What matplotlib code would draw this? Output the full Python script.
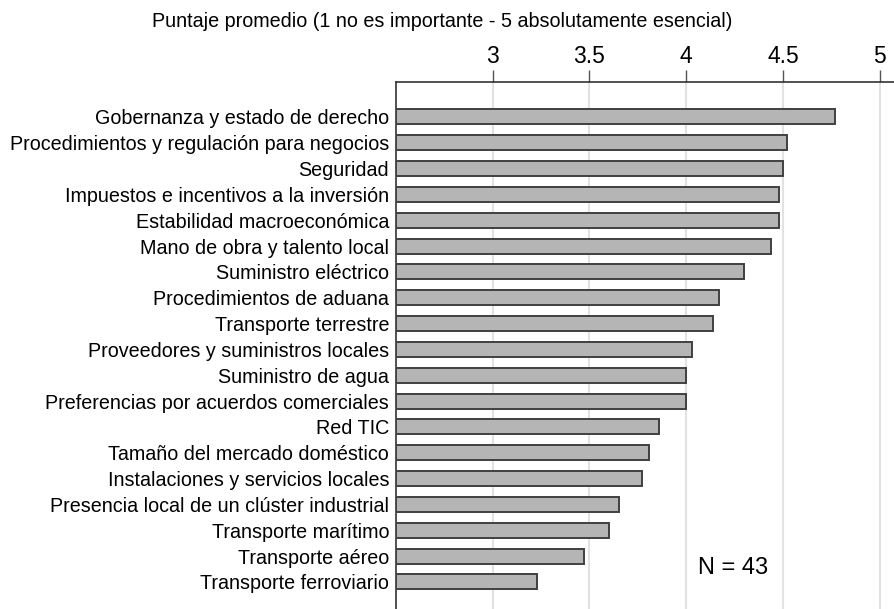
import matplotlib
matplotlib.use("Agg")
import matplotlib.pyplot as plt

plt.rcParams['font.family'] = ['Liberation Sans', 'DejaVu Sans']

# datos
categorias = [
    "Gobernanza y estado de derecho",
    "Procedimientos y regulación para negocios",
    "Seguridad",
    "Impuestos e incentivos a la inversión",
    "Estabilidad macroeconómica",
    "Mano de obra y talento local",
    "Suministro eléctrico",
    "Procedimientos de aduana",
    "Transporte terrestre",
    "Proveedores y suministros locales",
    "Suministro de agua",
    "Preferencias por acuerdos comerciales",
    "Red TIC",
    "Tamaño del mercado doméstico",
    "Instalaciones y servicios locales",
    "Presencia local de un clúster industrial",
    "Transporte marítimo",
    "Transporte aéreo",
    "Transporte ferroviario",
]
puntajes = [4.77, 4.52, 4.50, 4.48, 4.48, 4.44, 4.30, 4.17, 4.14, 4.03,
            4.00, 4.00, 3.86, 3.81, 3.77, 3.65, 3.60, 3.47, 3.23]
ticks_x = [3, 3.5, 4, 4.5, 5]
n_texto = "N = 43"
titulo = "Puntaje promedio (1 no es importante - 5 absolutamente esencial)"

fig = plt.figure(figsize=(8.94, 6.09), dpi=100)
ax = fig.add_axes([0.443, 0.0, 0.557, 0.866])

base = 2.5
pos = list(range(len(categorias)))
ax.barh(pos, [p - base for p in puntajes], left=base, height=0.58,
        color="#b5b5b5", edgecolor="#404040", linewidth=1.4, zorder=3)

ax.set_xlim(2.5, 5.074)
ax.set_ylim(19.05, -1.37)

ax.xaxis.tick_top()
ax.set_xticks(ticks_x)
ax.set_xticklabels([f"{t:g}" for t in ticks_x], fontsize=16.5)
ax.tick_params(axis="x", direction="out", length=9, width=1, color="#555555", pad=1)
ax.set_yticks(pos)
ax.set_yticklabels(categorias, fontsize=14.2)
ax.tick_params(axis="y", length=0, pad=5)

ax.grid(axis="x", color="#e2e2e2", linewidth=1.5, zorder=0)
ax.set_axisbelow(True)

for s in ["right", "bottom"]:
    ax.spines[s].set_visible(False)
for s in ["top", "left"]:
    ax.spines[s].set_color("#333333")
    ax.spines[s].set_linewidth(1.2)

ax.text(4.243, 17.46, n_texto, fontsize=17, ha="center", va="center")

fig.text(0.495, 0.964, titulo, fontsize=14.2, ha="center", va="center")

fig.savefig("out.png", dpi=100)
